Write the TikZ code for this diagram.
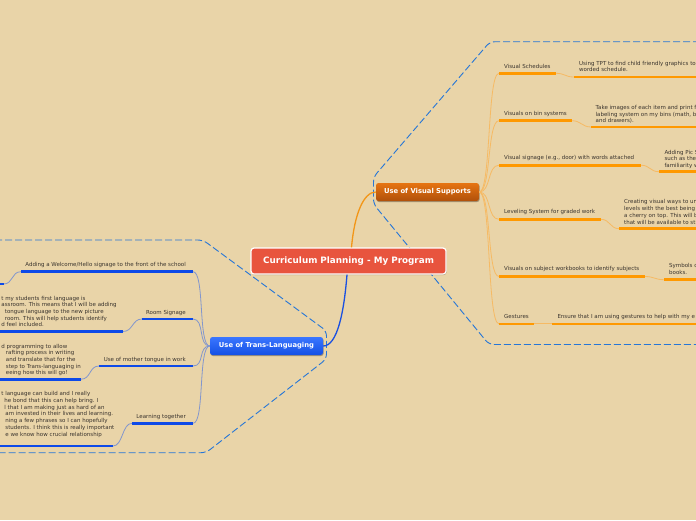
\documentclass[tikz,border=0pt]{standalone}
\usepackage{fontspec}
\setmainfont{DejaVu Sans}
\usetikzlibrary{shadows}
\definecolor{bg}{RGB}{233,212,168}
\definecolor{orul}{RGB}{255,153,0}
\definecolor{orln}{RGB}{246,186,100}
\definecolor{blul}{RGB}{14,74,232}
\definecolor{blln}{RGB}{130,150,205}
\definecolor{dashc}{RGB}{38,118,215}
\definecolor{txt}{RGB}{58,52,46}
\definecolor{mainred}{RGB}{232,84,62}
\definecolor{vstop}{RGB}{230,116,18}
\definecolor{vsbot}{RGB}{176,80,10}
\definecolor{tltop}{RGB}{58,118,255}
\definecolor{tlbot}{RGB}{20,80,228}
\definecolor{mainor}{RGB}{242,150,24}
\definecolor{mainbl}{RGB}{26,80,225}
\begin{document}
\begin{tikzpicture}[x=1pt,y=-1pt,
  lbl/.style={font=\fontsize{5.5}{6.7}\selectfont, text=txt, inner sep=0},
  det/.style={font=\fontsize{5.5}{6.7}\selectfont, text=txt, inner sep=0, align=left, anchor=north west},
  oul/.style={draw=orul, line width=2.6pt},
  bul/.style={draw=blul, line width=2.6pt},
  oln/.style={draw=orln, line width=0.8pt},
  bln/.style={draw=blln, line width=0.8pt},
  bound/.style={draw=dashc, line width=0.9pt, dash pattern=on 7pt off 3pt, rounded corners=5pt},
  topic/.style={rounded corners=2.5pt, text=white, inner sep=0, minimum height=18pt,
    font=\fontsize{6.8}{8}\selectfont\bfseries,
    drop shadow={shadow xshift=0.6pt, shadow yshift=-1pt, opacity=0.3, fill=black}},
  central/.style={rounded corners=3pt, text=white, fill=mainred, draw=white, line width=1.2pt,
    minimum width=195pt, minimum height=26pt, inner sep=0,
    font=\fontsize{8.8}{10}\selectfont\bfseries,
    drop shadow={shadow xshift=0.6pt, shadow yshift=-1pt, opacity=0.25, fill=black}}
]
\useasboundingbox (0,0) rectangle (696,520);
\clip (0,0) rectangle (696,520);
\fill[bg] (0,0) rectangle (696,520);

% ---------- dashed boundaries ----------
\coordinate (rb1) at (700,41.7);
\coordinate (rb2) at (490,41.7);
\coordinate (rb3) at (373.5,177);
\coordinate (rb4) at (373.5,204);
\coordinate (rb5) at (489,344.5);
\coordinate (rb6) at (700,344.5);
\draw[bound] (rb1) -- (rb2) -- (rb3) -- (rb4) -- (rb5) -- (rb6);
\coordinate (lb1) at (-5,240);
\coordinate (lb2) at (203,240);
\coordinate (lb3) at (326.5,331);
\coordinate (lb4) at (326.5,359);
\coordinate (lb5) at (206,452.7);
\coordinate (lb6) at (-5,452.7);
\draw[bound] (lb1) -- (lb2) -- (lb3) -- (lb4) -- (lb5) -- (lb6);

% ---------- main nodes ----------
\node[central] (main) at (348.5,261) {Curriculum Planning - My Program};
\node[topic, top color=vstop, bottom color=vsbot, minimum width=103pt] (vs) at (427.5,192) {Use of Visual Supports};
\node[topic, top color=tltop, bottom color=tlbot, minimum width=113pt] (tl) at (266.5,346) {Use of Trans-Languaging};

\draw[draw=mainor, line width=1.3pt] ([xshift=3pt]main.north) .. controls +(3,-34) and +(-12,0) .. (vs.west);
\draw[draw=mainbl, line width=1.3pt] ([xshift=-1.5pt]main.south) .. controls +(-3,38) and +(14,0) .. (tl.east);

% ---------- Visual Supports branch ----------
% 1 Visual Schedules
\coordinate (v1a) at (499,73.3); \coordinate (v1b) at (556,73.3);
\coordinate (v1c) at (574,77); \coordinate (v1d) at (700,77);
\node[lbl, anchor=base west] (v1l) at (504,68) {Visual Schedules};
\node[det] (v1t) at (579,60.3) {\strut Using TPT to find child friendly graphics to\\worded schedule.};
% 2 bins
\coordinate (v2a) at (499,120.7); \coordinate (v2b) at (572,120.7);
\coordinate (v2c) at (591,127); \coordinate (v2d) at (700,127);
\node[lbl, anchor=base west] (v2l) at (504,115.5) {Visuals on bin systems};
\node[det] (v2t) at (595.5,104.6) {\strut Take images of each item and print f\\labeling system on my bins (math, b\\and drawers).};
% 3 signage
\coordinate (v3a) at (499,165.2); \coordinate (v3b) at (641,165.2);
\coordinate (v3c) at (659,171.7); \coordinate (v3d) at (700,171.7);
\node[lbl, anchor=base west] (v3l) at (504,159.6) {Visual signage (e.g., door) with words attached};
\node[det] (v3t) at (664.3,149.3) {\strut Adding Pic S\\such as the\\familiarity w};
% 4 leveling
\coordinate (v4a) at (499,219.3); \coordinate (v4b) at (601,219.3);
\coordinate (v4c) at (619,228.7); \coordinate (v4d) at (700,228.7);
\node[lbl, anchor=base west] (v4l) at (504,213.6) {Leveling System for graded work};
\node[det] (v4t) at (624,199.1) {\strut Creating visual ways to un\\levels with the best being\\a cherry on top. This will b\\that will be available to st};
% 5 workbooks
\coordinate (v5a) at (499,276.5); \coordinate (v5b) at (645,276.5);
\coordinate (v5c) at (664,279.7); \coordinate (v5d) at (700,279.7);
\node[lbl, anchor=base west] (v5l) at (504,270.6) {Visuals on subject workbooks to identify subjects};
\node[det] (v5t) at (669,263.1) {\strut Symbols o\\books.};
% 6 gestures
\coordinate (v6a) at (499,323.8); \coordinate (v6b) at (534,323.8);
\coordinate (v6c) at (552,323.8); \coordinate (v6d) at (700,323.8);
\node[lbl, anchor=base west] (v6l) at (504,318.4) {Gestures};
\node[lbl, anchor=base west] (v6t) at (557.3,318.4) {Ensure that I am using gestures to help with my e};

\foreach \i in {1,...,6}{
  \draw[oln] (vs.east) .. controls +(12,0) and +(-12,0) .. (v\i a);
  \draw[oln] (v\i b) .. controls +(9,0) and +(-9,0) .. (v\i c);
  \draw[oul] (v\i a) -- (v\i b);
  \draw[oul] (v\i c) -- (v\i d);
}

% ---------- Trans-Languaging branch ----------
% 1 welcome
\coordinate (t1a) at (193,271.7); \coordinate (t1b) at (21,271.7);
\coordinate (t1c) at (3.5,284); \coordinate (t1d) at (-5,284);
\node[lbl, anchor=base east] (t1l) at (186,266.8) {Adding a Welcome/Hello signage to the front of the school};
% 2 room signage
\coordinate (t2a) at (193,319); \coordinate (t2b) at (142,319);
\coordinate (t2c) at (123,331.5); \coordinate (t2d) at (-5,331.5);
\node[lbl, anchor=base east] (t2l) at (186,314) {Room Signage};
\node[det] (t2t) at (1.2,295.3) {\strut t my students first language is\\assroom. This means that I will be adding\\\hspace*{3.5pt}tongue language to the new picture\\\hspace*{3.5pt}room. This will help students identify\\d feel included.};
% 3 mother tongue
\coordinate (t3a) at (193,366); \coordinate (t3b) at (99,366);
\coordinate (t3c) at (81,379.2); \coordinate (t3d) at (-5,379.2);
\node[lbl, anchor=base east] (t3l) at (186,361) {Use of mother tongue in work};
\node[det] (t3t) at (1.2,343.2) {\strut d programming to allow\\\hspace*{4.5pt}rafting process in writing\\\hspace*{4.5pt}and translate that for the\\\hspace*{4.5pt}step to Trans-languaging in\\\hspace*{4.5pt}eeing how this will go!};
% 4 learning together
\coordinate (t4a) at (193,423.3); \coordinate (t4b) at (132,423.3);
\coordinate (t4c) at (113,446); \coordinate (t4d) at (-5,446);
\node[lbl, anchor=base east] (t4l) at (186,418.3) {Learning together};
\node[det, font=\fontsize{5.5}{6.8}\selectfont] (t4t) at (1.2,390.6) {\strut t language can build and I really\\\hspace*{3pt}he bond that this can help bring. I\\\hspace*{3pt}l that I am making just as hard of an\\\hspace*{4pt}am invested in their lives and learning.\\\hspace*{4pt}ning a few phrases so I can hopefully\\\hspace*{4pt}students. I think this is really important\\\hspace*{4pt}e we know how crucial relationship};

\foreach \i in {1,...,4}{
  \draw[bln] (tl.west) .. controls +(-12,0) and +(12,0) .. (t\i a);
  \draw[bln] (t\i b) .. controls +(-10,0) and +(10,0) .. (t\i c);
  \draw[bul] (t\i a) -- (t\i b);
  \draw[bul] (t\i c) -- (t\i d);
}
\end{tikzpicture}
\end{document}
